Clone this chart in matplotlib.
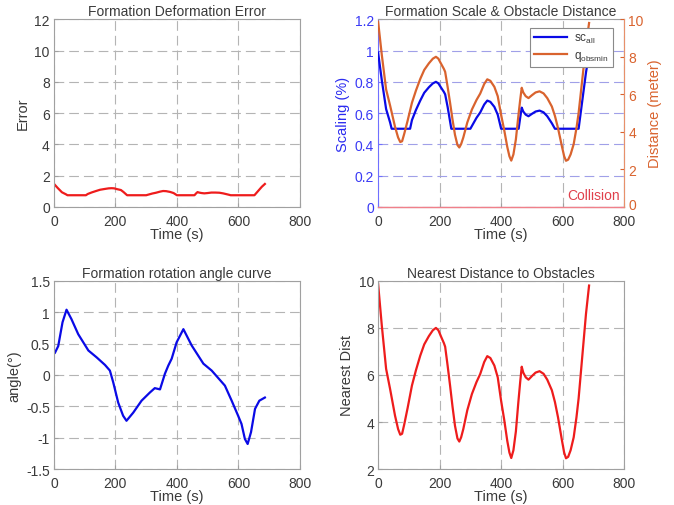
import matplotlib
matplotlib.use("Agg")
import matplotlib.pyplot as plt
from matplotlib.transforms import ScaledTranslation

plt.rcParams['font.family'] = ['Liberation Sans', 'DejaVu Sans']
plt.rcParams['lines.scale_dashes'] = False

# ---- data -------------------------------------------------------------
t_dist = [0, 12, 26, 39, 55, 65, 72, 78, 85, 96, 110, 123, 137, 150, 165, 178,
          188, 196, 205, 214, 218, 226, 234, 242, 250, 258, 264, 270, 277, 290,
          305, 320, 332, 345, 355, 365, 378, 389, 400, 410, 420, 427, 433, 440,
          448, 456, 462, 467, 472, 480, 489, 500, 512, 525, 538, 550, 565, 575,
          585, 597, 605, 611, 618, 626, 636, 645, 652, 660, 668, 676, 686]
dist = [9.87, 8.10, 6.26, 5.40, 4.27, 3.70, 3.46, 3.50, 3.90, 4.60, 5.55, 6.20,
        6.82, 7.30, 7.65, 7.90, 8.00, 7.90, 7.62, 7.35, 7.20, 6.40, 5.55, 4.65,
        3.84, 3.30, 3.17, 3.35, 3.70, 4.50, 5.19, 5.70, 6.04, 6.55, 6.80, 6.72,
        6.40, 5.90, 4.90, 4.10, 3.20, 2.70, 2.47, 2.80, 3.60, 4.84, 5.70, 6.35,
        6.10, 5.90, 5.80, 5.95, 6.10, 6.16, 6.05, 5.80, 5.35, 4.85, 4.20, 3.28,
        2.70, 2.46, 2.52, 2.80, 3.35, 4.20, 5.00, 6.20, 7.40, 8.60, 9.80]

t_scale = [0, 12, 26, 39, 44, 104, 110, 123, 137, 150, 165, 178, 188, 196, 205,
           214, 218, 226, 238, 300, 320, 332, 345, 355, 365, 378, 389, 400, 457,
           462, 467, 472, 480, 489, 500, 512, 525, 538, 550, 565, 575, 652, 660,
           668, 676, 686]
scale = [0.987, 0.81, 0.626, 0.54, 0.50, 0.50, 0.555, 0.62, 0.68, 0.73, 0.765,
         0.79, 0.80, 0.79, 0.762, 0.735, 0.72, 0.64, 0.50, 0.50, 0.57, 0.604,
         0.655, 0.68, 0.672, 0.64, 0.59, 0.50, 0.50, 0.57, 0.635, 0.61, 0.59,
         0.58, 0.595, 0.61, 0.616, 0.605, 0.58, 0.535, 0.50, 0.50, 0.62, 0.74,
         0.86, 0.98]

t_err = t_scale
err = [1.48, 1.22, 0.94, 0.81, 0.75, 0.75, 0.83, 0.93, 1.02, 1.10, 1.15, 1.19,
       1.20, 1.19, 1.14, 1.10, 1.08, 0.96, 0.75, 0.75, 0.86, 0.91, 0.98, 1.02,
       1.01, 0.96, 0.89, 0.75, 0.75, 0.86, 0.95, 0.92, 0.89, 0.87, 0.89, 0.92,
       0.92, 0.91, 0.87, 0.80, 0.75, 0.75, 0.93, 1.11, 1.29, 1.47]

t_angle = [0, 3, 14, 28, 41, 57, 79, 112, 139, 166, 182, 193, 209, 225, 236,
           258, 285, 312, 328, 345, 361, 372, 383, 399, 421, 448, 486, 513, 556,
           578, 599, 610, 621, 630, 641, 654, 668, 686]
angle = [0.34, 0.35, 0.46, 0.84, 1.04, 0.89, 0.65, 0.39, 0.28, 0.16, 0.07,
         -0.12, -0.44, -0.65, -0.73, -0.60, -0.41, -0.28, -0.21, -0.23, 0.02,
         0.15, 0.26, 0.52, 0.73, 0.47, 0.18, 0.07, -0.17, -0.41, -0.65, -0.78,
         -1.02, -1.10, -0.91, -0.54, -0.41, -0.36]

x_ticks = [0, 200, 400, 600, 800]
err_ticks = [0, 2, 4, 6, 8, 10, 12]
scale_ticks = [0, 0.2, 0.4, 0.6, 0.8, 1, 1.2]
scale_labels = ['0', '0.2', '0.4', '0.6', '0.8', '1', '1.2']
dist_ticks_r = [0, 2, 4, 6, 8, 10]
angle_ticks = [-1.5, -1, -0.5, 0, 0.5, 1, 1.5]
angle_labels = ['-1.5', '-1', '-0.5', '0', '0.5', '1', '1.5']
near_ticks = [2, 4, 6, 8, 10]

# ---- style ------------------------------------------------------------
TXT = '#3a3a3a'
SPINE = '#a0a0a0'
GRID = '#b4b4b4'
DASH = (0, (7, 3.6))
BLUE = '#0a0ae6'
ORANGE = '#d9632e'
RED = '#ee1c1c'
LW = 1.6
FS = 10


def style(ax, ylabel, title):
    ax.set_xlim(0, 800)
    ax.set_xticks(x_ticks)
    ax.set_xlabel('Time (s)', fontsize=FS + 0.5, color=TXT, labelpad=-0.5)
    ax.set_ylabel(ylabel, fontsize=FS + 0.5, color=TXT, labelpad=3)
    ax.set_title(title, fontsize=FS, color=TXT, pad=3)
    ax.tick_params(direction='in', length=3, colors=SPINE, labelcolor=TXT,
                   labelsize=FS)
    ax.tick_params(axis='x', pad=5)
    ax.tick_params(axis='y', pad=3)
    for s in ax.spines.values():
        s.set_color(SPINE)
        s.set_linewidth(0.8)
    ax.grid(True, color=GRID, linestyle=DASH, linewidth=0.8)


fig = plt.figure(figsize=(6.74, 5.06), dpi=100)

# Formation deformation error
ax1 = fig.add_axes([0.080, 0.589, 0.365, 0.371])
ax1.plot(t_err, err, color=RED, lw=LW)
ax1.set_ylim(0, 12)
ax1.set_yticks(err_ticks)
style(ax1, 'Error', 'Formation Deformation Error')

# Formation scale & obstacle distance (two y axes)
ax2 = fig.add_axes([0.561, 0.589, 0.365, 0.371])
ax2r = ax2.twinx()
l1, = ax2.plot(t_scale, scale, color=BLUE, lw=LW, zorder=3)
l2, = ax2r.plot(t_dist, dist, color=ORANGE, lw=LW, zorder=3)
ax2r.axhline(0, color='#f0808a', lw=1.0, clip_on=False)
ax2.set_ylim(0, 1.2)
ax2.set_yticks(scale_ticks)
ax2.set_yticklabels(scale_labels)
ax2r.set_ylim(0, 10)
ax2r.set_yticks(dist_ticks_r)
style(ax2, 'Scaling (%)', 'Formation Scale & Obstacle Distance')
ax2.grid(False)
ax2.xaxis.grid(True, color=GRID, linestyle=DASH, linewidth=0.8)
ax2.yaxis.grid(True, color='#a0a0e8', linestyle=DASH, linewidth=0.8)
ax2.yaxis.label.set_color('#2b2bf0')
ax2.tick_params(axis='y', labelcolor='#3a3af5', colors='#7070ff')
ax2.spines['left'].set_color('#7070ff')
ax2r.tick_params(direction='in', length=3, colors=ORANGE, labelcolor=ORANGE,
                 labelsize=FS, pad=3)
for s in ax2r.spines.values():
    s.set_visible(False)
ax2r.spines['right'].set_visible(True)
ax2r.spines['right'].set_color('#e8906a')
ax2r.set_ylabel('Distance (meter)', fontsize=FS + 0.5, color=ORANGE, labelpad=3)
ax2r.text(785, 0.25, 'Collision', color='#e0404c', fontsize=FS,
          ha='right', va='bottom')
ax2r.set_zorder(ax2.get_zorder() + 1)
# lift the lowest right-hand label a little so it clears the "800" below it
fig.canvas.draw()
zero_lbl = ax2r.yaxis.get_majorticklabels()[0]
zero_lbl.set_transform(zero_lbl.get_transform()
                       + ScaledTranslation(0, 2.5 / 72, fig.dpi_scale_trans))
leg = ax2r.legend([l1, l2], [r'sc$_\mathregular{all}$', r'q$_\mathregular{obsmin}$'],
                  loc='upper right', bbox_to_anchor=(0.955, 0.952),
                  borderaxespad=0, fontsize=8.5, fancybox=False, framealpha=1,
                  edgecolor='#8a8a8a', handlelength=2.8, borderpad=0.35,
                  labelspacing=0.3, handletextpad=0.6)
leg.get_frame().set_linewidth(0.8)
for t in leg.get_texts():
    t.set_color(TXT)

# Formation rotation angle
ax3 = fig.add_axes([0.080, 0.071, 0.365, 0.372])
ax3.plot(t_angle, angle, color=BLUE, lw=LW)
ax3.set_ylim(-1.5, 1.5)
ax3.set_yticks(angle_ticks)
ax3.set_yticklabels(angle_labels)
style(ax3, 'angle(°)', 'Formation rotation angle curve')

# Nearest distance to obstacles
ax4 = fig.add_axes([0.561, 0.071, 0.365, 0.372])
ax4.plot(t_dist, dist, color=RED, lw=LW)
ax4.set_ylim(2, 10)
ax4.set_yticks(near_ticks)
style(ax4, 'Nearest Dist', 'Nearest Distance to Obstacles')

fig.savefig('out.png', dpi=100, facecolor='white')
